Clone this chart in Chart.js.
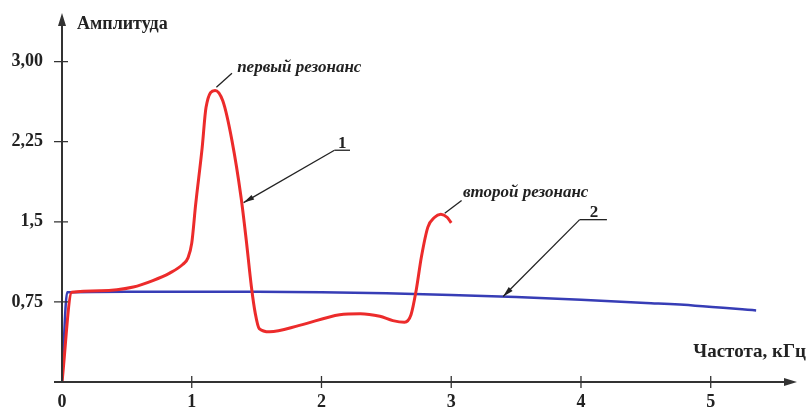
<!DOCTYPE html>
<html>
<head>
<meta charset="utf-8">
<script src="https://cdn.jsdelivr.net/npm/chart.js@4"></script>
<style>
  body { margin: 0; background: #fff; }
  #wrap { width: 807px; height: 407px; }
</style>
</head>
<body>
<div id="wrap"><canvas id="ampChart"></canvas></div>
<script>
// кривая 1 (красная)
const curve1Freq = [0, 0.075, 0.3, 0.55, 0.7, 0.83, 0.93, 0.97, 1.0, 1.03, 1.08, 1.11, 1.18, 1.24, 1.31, 1.38, 1.42, 1.46, 1.49, 1.52, 1.6, 1.83, 2.14, 2.3, 2.45, 2.55, 2.64, 2.69, 2.73, 2.77, 2.82, 2.87, 2.92, 2.97, 3.0];
const curve1Amp  = [0, 0.84, 0.855, 0.89, 0.95, 1.02, 1.1, 1.16, 1.3, 1.66, 2.19, 2.57, 2.73, 2.63, 2.26, 1.73, 1.33, 0.89, 0.64, 0.5, 0.47, 0.53, 0.63, 0.64, 0.615, 0.575, 0.56, 0.63, 0.86, 1.17, 1.45, 1.54, 1.57, 1.54, 1.49];

// кривая 2 (синяя)
const curve2Freq = [0, 0.04, 0.5, 1, 1.5, 2, 2.5, 3, 3.5, 4, 4.5, 4.88, 5.35];
const curve2Amp  = [0, 0.84, 0.845, 0.845, 0.845, 0.84, 0.83, 0.815, 0.795, 0.77, 0.74, 0.715, 0.67];

const xTicks = [0, 1, 2, 3, 4, 5];
const xTickLabels = ['0', '1', '2', '3', '4', '5'];
const yTicks = [0.75, 1.5, 2.25, 3.0];
const yTickLabels = ['0,75', '1,5', '2,25', '3,00'];

const toPoints = (xs, ys) => xs.map((x, i) => ({ x: x, y: ys[i] }));

const axisColor = '#333';
const serif = '"Liberation Serif", "DejaVu Serif", serif';

// оси со стрелками, засечки и подписи
const drawings = {
    id: 'drawings',
    afterDraw(chart) {
        const ctx = chart.ctx;
        const xs = chart.scales.x, ys = chart.scales.y;
        const px = v => xs.getPixelForValue(v);
        const py = v => ys.getPixelForValue(v);
        const x0 = px(0), y0 = py(0);
        const top = chart.chartArea.top, right = chart.chartArea.right;

        ctx.save();
        ctx.strokeStyle = axisColor;
        ctx.fillStyle = axisColor;
        ctx.lineWidth = 2;
        ctx.beginPath();
        ctx.moveTo(x0, y0);
        ctx.lineTo(x0, top + 8);
        ctx.moveTo(x0 - 8, y0);
        ctx.lineTo(right - 8, y0);
        ctx.stroke();
        // стрелки
        ctx.beginPath();
        ctx.moveTo(x0, top);
        ctx.lineTo(x0 - 4, top + 13);
        ctx.lineTo(x0 + 4, top + 13);
        ctx.closePath();
        ctx.moveTo(right, y0);
        ctx.lineTo(right - 13, y0 - 4);
        ctx.lineTo(right - 13, y0 + 4);
        ctx.closePath();
        ctx.fill();

        ctx.lineWidth = 1.3;
        ctx.beginPath();
        yTicks.forEach(v => { ctx.moveTo(x0 - 8, py(v)); ctx.lineTo(x0 + 6, py(v)); });
        xTicks.slice(1).forEach(v => { ctx.moveTo(px(v), y0 - 6); ctx.lineTo(px(v), y0 + 6); });
        ctx.stroke();

        ctx.fillStyle = '#222';
        ctx.textBaseline = 'middle';
        ctx.textAlign = 'left';
        ctx.font = 'bold 18px ' + serif;
        ctx.fillText('Амплитуда', x0 + 15, top + 11);
        ctx.textAlign = 'right';
        ctx.font = 'bold 19px ' + serif;
        ctx.fillText('Частота, кГц', right + 9, y0 - 30);

        // выноски
        ctx.strokeStyle = '#222';
        ctx.lineWidth = 1.3;
        const line = (a, b, c, d) => { ctx.beginPath(); ctx.moveTo(px(a), py(b)); ctx.lineTo(px(c), py(d)); ctx.stroke(); };
        const arrow = (a, b, c, d) => {
            line(a, b, c, d);
            const ang = Math.atan2(py(d) - py(b), px(c) - px(a));
            const tx = px(c), ty = py(d);
            ctx.beginPath();
            ctx.moveTo(tx, ty);
            ctx.lineTo(tx - 11 * Math.cos(ang - 0.25), ty - 11 * Math.sin(ang - 0.25));
            ctx.lineTo(tx - 11 * Math.cos(ang + 0.25), ty - 11 * Math.sin(ang + 0.25));
            ctx.closePath();
            ctx.fill();
        };

        line(1.19, 2.76, 1.31, 2.89);
        line(2.95, 1.58, 3.08, 1.70);
        line(2.1, 2.17, 2.22, 2.17);
        arrow(2.1, 2.17, 1.40, 1.68);
        line(3.99, 1.52, 4.2, 1.52);
        arrow(3.99, 1.52, 3.40, 0.80);

        ctx.font = 'italic bold 17px ' + serif;
        ctx.textAlign = 'left';
        ctx.fillText('первый резонанс', px(1.35), py(2.94));
        ctx.fillText('второй резонанс', px(3.09), py(1.77));
        ctx.font = 'bold 17px ' + serif;
        ctx.textAlign = 'center';
        ctx.fillText('1', px(2.16), py(2.23));
        ctx.fillText('2', px(4.1), py(1.59));
        ctx.restore();
    }
};

const noPad = s => { s.paddingTop = 0; s.paddingBottom = 0; s.paddingLeft = 0; s.paddingRight = 0; };

new Chart(document.getElementById('ampChart'), {
    type: 'line',
    data: {
        datasets: [
            {
                label: '1',
                data: toPoints(curve1Freq, curve1Amp),
                borderColor: '#ec2b2b',
                borderWidth: 3,
                pointRadius: 0,
                cubicInterpolationMode: 'monotone',
            },
            {
                label: '2',
                data: toPoints(curve2Freq, curve2Amp),
                borderColor: '#373db6',
                borderWidth: 2.5,
                pointRadius: 0,
                cubicInterpolationMode: 'monotone',
            }
        ]
    },
    options: {
        responsive: true,
        maintainAspectRatio: false,
        animation: false,
        layout: { padding: { top: 13, right: 10, left: 0, bottom: 0 } },
        plugins: {
            legend: { display: false },
            tooltip: { enabled: false }
        },
        scales: {
            x: {
                type: 'linear',
                min: 0,
                max: 5.665,
                grid: { display: false, drawTicks: false },
                border: { display: false },
                afterBuildTicks: s => { s.ticks = xTicks.map(v => ({ value: v })); },
                afterFit: s => { s.height = 25; noPad(s); },
                ticks: {
                    autoSkip: false,
                    maxRotation: 0,
                    padding: 10,
                    color: '#222',
                    font: { family: serif, size: 18, weight: 'bold' },
                    callback: (v, i) => xTickLabels[i]
                }
            },
            y: {
                type: 'linear',
                min: 0,
                max: 3.455,
                grid: { display: false, drawTicks: false },
                border: { display: false },
                afterBuildTicks: s => { s.ticks = yTicks.map(v => ({ value: v })); },
                afterFit: s => { s.width = 62; noPad(s); },
                ticks: {
                    autoSkip: false,
                    padding: 19,
                    color: '#222',
                    font: { family: serif, size: 18, weight: 'bold' },
                    callback: (v, i) => yTickLabels[i]
                }
            }
        }
    },
    plugins: [drawings]
});
</script>
</body>
</html>
